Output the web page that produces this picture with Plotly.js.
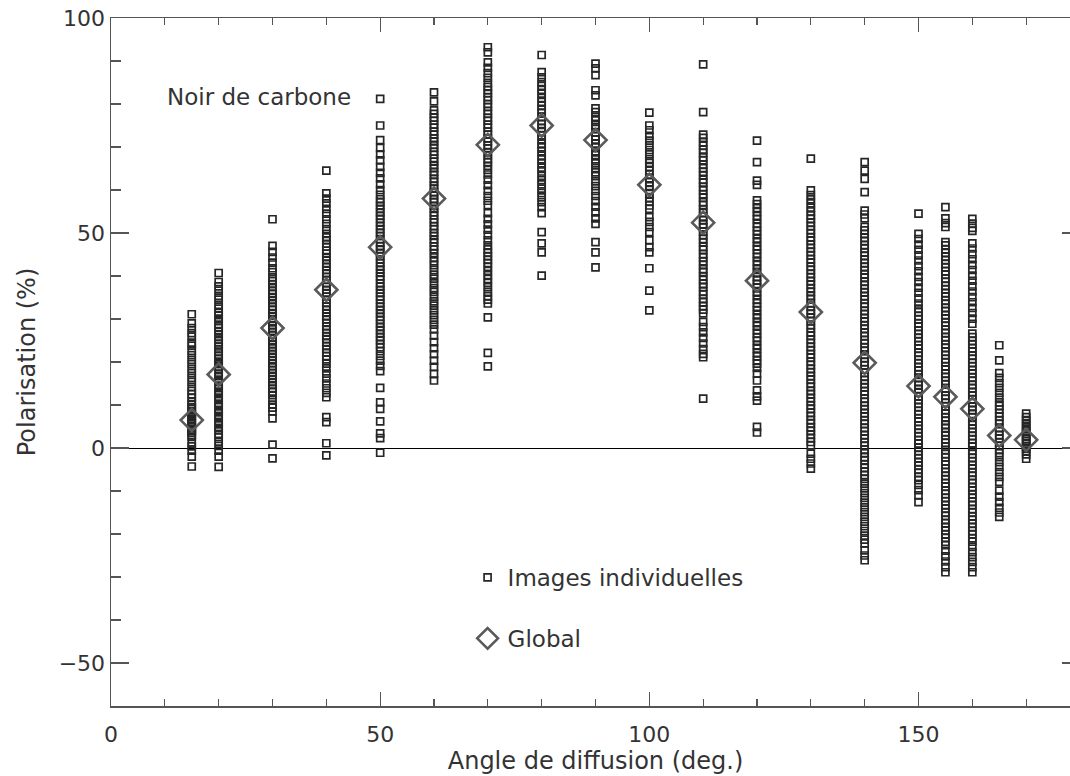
<!DOCTYPE html>
<html>
<head>
<meta charset="utf-8">
<script src="https://cdn.plot.ly/plotly-3.0.1.min.js"></script>
<style>
html, body { margin: 0; padding: 0; overflow: hidden; background: #fff; }
#chart { width: 1081px; height: 776px; }
</style>
</head>
<body>
<div id="chart"></div>
<script>
// Scattering angles (deg.)
const angles = [15, 20, 30, 40, 50, 60, 70, 80, 90, 100, 110, 120, 130, 140, 150, 155, 160, 165, 170];

// Global polarisation (%) per angle
const globalPol = [6.5, 17.1, 27.9, 36.8, 46.7, 58.0, 70.5, 75.0, 71.6, 61.2, 52.4, 38.9, 31.6, 19.8, 14.4, 11.9, 9.1, 2.9, 1.9];

// Individual images polarisation (%) per angle
const p15 = [31.1, 29.0, 27.9, 26.7, 25.9, 24.5, 23.8, 22.6, 21.6, 20.5, 19.5, 18.4, 17.4, 16.3, 15.4, 14.2, 13.3, 12.5, 11.7, 10.8, 10.2, 9.5, 9.1, 8.4, 8.0, 7.5, 7.1, 6.6, 6.0, 5.7, 5.1, 4.8, 4.2, 3.9, 3.5, 3.0, 2.6, 1.3, 0.4, -0.6, -2.0, -4.3];
const p20 = [40.7, 38.6, 37.6, 36.6, 35.4, 34.5, 33.3, 32.4, 31.5, 30.9, 30.1, 29.5, 28.7, 28.0, 27.2, 26.5, 25.8, 25.2, 24.3, 23.6, 23.0, 22.3, 21.5, 20.8, 20.1, 19.5, 18.8, 18.1, 17.3, 16.7, 15.9, 15.3, 14.5, 13.9, 13.1, 12.5, 11.7, 11.1, 10.3, 9.7, 8.9, 8.3, 7.5, 6.9, 6.1, 5.5, 4.7, 4.1, 3.3, 2.6, 1.5, 0.5, -0.6, -2.0, -4.4];
const p30 = [53.2, 47.0, 45.6, 44.3, 43.1, 41.8, 40.9, 39.7, 38.8, 38.1, 37.4, 36.6, 35.9, 35.1, 34.4, 33.7, 32.9, 32.2, 31.4, 30.7, 30.0, 29.2, 28.5, 27.8, 27.0, 26.3, 25.6, 24.8, 24.1, 23.4, 22.6, 21.9, 21.2, 20.4, 19.7, 19.0, 18.2, 17.5, 16.8, 16.0, 15.3, 14.6, 13.8, 13.1, 12.3, 11.2, 10.1, 9.4, 8.5, 6.9, 0.8, -2.4];
const p40 = [64.5, 59.2, 58.0, 56.9, 55.6, 54.5, 53.2, 52.1, 50.9, 49.8, 49.0, 48.3, 47.5, 46.8, 45.9, 45.2, 44.4, 43.7, 42.9, 42.1, 41.4, 40.6, 39.8, 39.1, 38.3, 37.5, 36.8, 36.0, 35.2, 34.5, 33.7, 32.9, 32.2, 31.4, 30.6, 29.9, 29.1, 28.3, 27.6, 26.8, 26.0, 25.3, 24.5, 23.7, 23.0, 22.2, 21.4, 20.6, 19.6, 18.5, 17.3, 16.2, 15.0, 13.9, 12.8, 11.8, 7.2, 6.0, 1.1, -1.7];
const p50 = [81.2, 75.0, 71.6, 69.8, 68.3, 66.9, 65.4, 64.0, 62.7, 61.3, 60.0, 58.9, 57.9, 57.1, 56.3, 55.6, 54.8, 54.0, 53.3, 52.4, 51.6, 50.9, 50.1, 49.3, 48.6, 47.7, 46.9, 46.2, 45.4, 44.6, 43.9, 43.0, 42.2, 41.5, 40.7, 39.9, 39.2, 38.3, 37.5, 36.8, 36.0, 35.2, 34.5, 33.6, 32.8, 32.1, 31.3, 30.5, 29.8, 28.9, 28.1, 27.4, 26.6, 25.8, 25.1, 24.2, 23.4, 22.5, 21.4, 20.3, 19.1, 17.9, 14.0, 10.6, 9.1, 6.2, 3.4, 2.3, -1.1];
const p60 = [82.7, 80.6, 78.5, 77.7, 76.8, 76.1, 75.2, 74.5, 73.6, 72.9, 72.0, 71.3, 70.5, 69.8, 68.9, 68.2, 67.3, 66.6, 65.8, 65.1, 64.2, 63.5, 62.6, 61.9, 61.0, 60.3, 59.5, 58.8, 57.9, 57.2, 56.3, 55.6, 54.8, 54.1, 53.2, 52.5, 51.6, 50.9, 50.0, 49.3, 48.5, 47.8, 46.9, 46.2, 45.3, 44.3, 43.4, 42.5, 41.4, 40.3, 39.4, 38.3, 37.2, 36.3, 35.2, 34.1, 33.1, 32.0, 30.9, 29.8, 28.7, 27.6, 26.1, 24.6, 23.2, 21.8, 20.3, 18.9, 17.2, 15.7];
const p70 = [93.2, 92.0, 89.7, 88.4, 87.2, 86.1, 84.9, 84.0, 83.2, 82.5, 81.6, 80.9, 80.0, 79.3, 78.4, 77.7, 76.8, 76.1, 75.2, 74.5, 73.6, 72.9, 72.0, 71.3, 70.4, 69.7, 68.8, 68.1, 67.2, 66.5, 65.6, 64.7, 63.6, 62.4, 61.1, 59.8, 58.6, 57.5, 56.5, 54.6, 53.3, 52.0, 50.8, 49.5, 48.3, 47.1, 46.2, 45.4, 44.6, 43.8, 43.0, 42.1, 41.2, 40.2, 39.3, 38.4, 37.4, 36.3, 35.3, 34.5, 33.6, 30.4, 22.1, 19.0];
const p80 = [91.4, 87.4, 86.2, 85.1, 84.2, 83.3, 82.4, 81.4, 80.5, 79.6, 78.7, 77.9, 77.0, 76.1, 75.3, 74.4, 73.5, 72.7, 71.8, 70.8, 69.9, 69.0, 68.0, 67.1, 66.2, 65.2, 64.3, 63.3, 62.3, 61.3, 60.3, 59.3, 58.3, 57.2, 56.0, 54.6, 50.2, 47.6, 45.5, 40.1];
const p90 = [89.4, 88.3, 86.7, 83.2, 82.0, 79.0, 78.1, 77.0, 76.2, 75.1, 74.2, 73.4, 72.5, 71.7, 70.8, 69.9, 69.0, 68.1, 67.1, 66.2, 65.1, 64.1, 63.2, 62.0, 60.9, 59.8, 58.6, 57.4, 56.1, 54.8, 53.4, 52.1, 47.9, 45.5, 42.0];
const p100 = [78.0, 75.0, 73.9, 72.6, 71.5, 70.4, 69.3, 68.3, 67.2, 66.3, 65.4, 64.5, 63.6, 62.7, 61.8, 60.9, 60.0, 59.1, 58.2, 57.3, 56.4, 55.6, 53.7, 52.6, 51.4, 50.2, 48.3, 46.7, 45.5, 41.8, 36.6, 32.0];
const p110 = [89.2, 78.1, 72.9, 72.1, 71.1, 70.3, 69.4, 68.6, 67.6, 66.9, 65.9, 65.1, 64.2, 63.4, 62.4, 61.7, 60.7, 59.9, 59.0, 58.2, 57.2, 56.5, 55.5, 54.7, 53.8, 53.0, 52.0, 51.3, 50.3, 49.5, 48.6, 47.8, 46.8, 46.1, 45.1, 44.3, 43.4, 42.6, 41.6, 40.9, 39.9, 39.1, 38.2, 37.4, 36.4, 35.7, 34.7, 33.9, 33.0, 32.2, 31.3, 29.3, 28.1, 26.9, 25.6, 24.3, 23.0, 21.9, 21.1, 11.5];
const p120 = [71.5, 66.5, 62.2, 61.2, 57.6, 56.7, 55.8, 54.9, 54.0, 53.2, 52.2, 51.4, 50.5, 49.7, 48.7, 47.9, 46.9, 46.1, 45.2, 44.4, 43.4, 42.6, 41.6, 40.8, 39.8, 39.0, 38.1, 37.3, 36.3, 35.5, 34.5, 33.7, 32.8, 32.0, 31.0, 30.2, 29.2, 28.4, 27.4, 26.6, 25.7, 24.9, 23.9, 23.1, 22.1, 21.3, 20.4, 19.6, 18.6, 17.3, 15.7, 13.4, 12.0, 11.0, 4.9, 3.6];
const p130 = [67.3, 59.9, 58.8, 57.8, 56.9, 55.9, 55.0, 54.1, 53.3, 52.4, 51.6, 50.7, 49.9, 49.0, 48.2, 47.3, 46.5, 45.6, 44.8, 43.9, 43.1, 42.2, 41.4, 40.5, 39.7, 38.8, 38.0, 37.1, 36.3, 35.4, 34.6, 33.7, 32.9, 32.0, 31.2, 30.3, 29.5, 28.6, 27.8, 26.9, 26.1, 25.2, 24.4, 23.5, 22.7, 21.8, 21.0, 20.1, 19.3, 18.4, 17.6, 16.7, 15.9, 15.0, 14.2, 13.3, 12.5, 11.6, 10.8, 9.9, 9.1, 8.2, 7.4, 6.5, 5.7, 4.8, 4.0, 3.1, 2.3, 1.4, 0.6, -1.3, -2.5, -3.6, -4.8];
const p140 = [66.5, 64.5, 62.6, 59.5, 55.2, 54.3, 53.4, 51.4, 50.6, 49.8, 48.9, 48.1, 47.2, 46.4, 45.5, 44.7, 43.8, 43.0, 42.1, 41.3, 40.4, 39.6, 38.7, 37.9, 37.0, 36.2, 35.3, 34.5, 33.6, 32.8, 31.9, 31.1, 30.2, 29.4, 28.5, 27.7, 26.8, 26.0, 25.1, 24.3, 23.4, 22.6, 21.7, 20.9, 20.0, 19.2, 18.3, 17.5, 16.6, 15.8, 14.9, 14.1, 13.2, 12.4, 11.5, 10.7, 9.8, 9.0, 8.1, 7.3, 6.4, 5.6, 4.7, 3.9, 3.0, 2.2, 1.3, 0.5, -0.4, -1.2, -2.1, -2.9, -3.8, -4.6, -5.5, -6.3, -7.2, -8.3, -9.4, -10.5, -11.6, -12.7, -13.8, -14.9, -16.0, -17.1, -18.2, -19.3, -20.4, -21.3, -22.2, -23.8, -25.0, -26.1];
const p150 = [54.5, 49.8, 48.6, 47.3, 46.1, 44.8, 43.6, 42.3, 41.1, 39.8, 38.6, 37.3, 36.1, 34.8, 33.6, 32.4, 31.6, 30.7, 29.9, 29.0, 28.2, 27.3, 26.5, 25.6, 24.8, 23.9, 23.1, 22.2, 21.4, 20.5, 19.7, 18.8, 18.0, 17.1, 16.3, 15.4, 14.6, 13.7, 12.9, 12.0, 11.2, 10.3, 9.5, 8.6, 7.8, 6.9, 6.1, 5.2, 4.4, 3.5, 2.7, 1.8, 1.0, 0.1, -0.7, -1.6, -2.4, -3.3, -4.1, -5.0, -5.8, -6.7, -7.5, -8.6, -9.8, -11.0, -12.6];
const p155 = [56.0, 53.4, 52.3, 51.4, 47.9, 47.1, 46.2, 45.4, 44.5, 43.7, 42.8, 42.0, 41.1, 40.3, 39.4, 38.6, 37.7, 36.9, 36.0, 35.2, 34.3, 33.5, 32.6, 31.8, 30.9, 30.1, 29.2, 28.4, 27.5, 26.7, 25.8, 25.0, 24.1, 23.3, 22.4, 21.6, 20.7, 19.9, 19.0, 18.2, 17.3, 16.5, 15.6, 14.8, 13.9, 13.1, 12.2, 11.4, 10.5, 9.7, 8.8, 8.0, 7.1, 6.3, 5.4, 4.6, 3.7, 2.9, 2.0, 1.2, 0.3, -0.5, -1.4, -2.2, -3.1, -3.9, -4.8, -5.6, -6.5, -7.3, -8.2, -9.0, -9.9, -10.7, -11.6, -12.4, -13.3, -14.1, -15.0, -15.8, -16.7, -17.5, -18.4, -19.2, -20.1, -20.9, -21.8, -22.6, -23.9, -25.2, -26.4, -27.7, -28.9];
const p160 = [53.3, 52.2, 51.2, 50.5, 47.6, 46.4, 45.1, 43.9, 42.6, 41.4, 40.1, 38.9, 37.6, 36.4, 35.1, 33.9, 32.6, 31.4, 30.1, 28.9, 26.6, 25.8, 24.9, 24.1, 23.2, 22.4, 21.5, 20.7, 19.8, 19.0, 18.1, 17.3, 16.4, 15.6, 14.7, 13.9, 13.0, 12.2, 11.3, 10.5, 9.6, 8.8, 7.9, 7.1, 6.2, 5.4, 4.5, 3.7, 2.8, 2.0, 1.1, 0.3, -0.6, -1.4, -2.3, -3.1, -4.0, -4.8, -5.7, -6.5, -7.4, -8.2, -9.1, -9.9, -10.8, -11.6, -12.5, -13.3, -14.2, -15.0, -15.9, -16.7, -17.6, -18.4, -19.3, -20.1, -21.0, -21.8, -23.0, -24.2, -25.4, -26.5, -27.7, -28.9];
const p165 = [23.9, 20.4, 17.4, 16.3, 15.1, 14.0, 12.8, 11.7, 10.6, 9.8, 9.0, 8.1, 7.3, 6.4, 5.6, 4.7, 3.9, 3.0, 2.2, 1.3, 0.5, -0.4, -1.2, -2.1, -3.3, -4.4, -5.6, -6.7, -7.9, -9.9, -11.3, -12.6, -13.9, -15.0, -16.0];
const p170 = [8.0, 7.2, 6.5, 5.8, 5.1, 4.5, 3.9, 3.3, 2.7, 2.1, 1.6, 1.0, 0.4, -0.2, -0.8, -1.5, -2.5];

const individual = [p15, p20, p30, p40, p50, p60, p70, p80, p90, p100, p110, p120, p130, p140, p150, p155, p160, p165, p170];

// Tick values
const xTicks = [0, 50, 100, 150];
const yTicks = [-50, 0, 50, 100];

// Labels
const legendIndividual = 'Images individuelles';
const legendGlobal = 'Global';
const sampleLabel = 'Noir de carbone';
const xTitle = 'Angle de diffusion (deg.)';
const yTitle = 'Polarisation (%)';

// Flatten individual measurements
const indX = [];
const indY = [];
individual.forEach(function (vals, i) {
  vals.forEach(function (v) { indX.push(angles[i]); indY.push(v); });
});

const axisColor = '#555';
const font = 'DejaVu Sans, Verdana, sans-serif';

const traces = [
  {
    type: 'scatter', mode: 'markers', x: indX, y: indY,
    name: legendIndividual, legendgroup: 'a',
    marker: { symbol: 'square-open', size: 7, color: '#262626', line: { width: 1.7, color: '#262626' } },
    hoverinfo: 'skip'
  },
  {
    type: 'scatter', mode: 'markers', x: angles, y: globalPol,
    name: legendGlobal, legendgroup: 'b',
    marker: { symbol: 'diamond-open', size: 17, color: '#5a5a5a', line: { width: 2.6, color: '#5a5a5a' } },
    hoverinfo: 'skip'
  }
];

const layout = {
  width: 1081, height: 776,
  margin: { l: 111, r: 1, t: 18, b: 70 },
  paper_bgcolor: '#fff', plot_bgcolor: '#fff',
  font: { family: font, color: '#333', size: 22 },
  showlegend: true,
  legend: {
    x: 0.368, xanchor: 'left', y: 0.218, yanchor: 'top',
    bgcolor: 'rgba(0,0,0,0)', font: { size: 23, color: '#333' },
    tracegroupgap: 28, itemsizing: 'trace'
  },
  xaxis: {
    range: [0, 180], tickmode: 'array', tickvals: xTicks,
    ticks: 'inside', ticklen: 14, tickwidth: 1.3, tickcolor: axisColor,
    showline: true, linecolor: axisColor, linewidth: 1.5, mirror: 'ticks',
    showgrid: false, zeroline: false, ticklabelstandoff: 8,
    tickfont: { size: 22, color: '#333' },
    minor: { tick0: 0, dtick: 10, ticks: 'inside', ticklen: 7, tickwidth: 1.2, tickcolor: axisColor, showgrid: false },
    title: { text: xTitle, font: { size: 24, color: '#333' }, standoff: 0 }
  },
  yaxis: {
    range: [-60, 100], tickmode: 'array', tickvals: yTicks,
    ticks: 'inside', ticklen: 18, tickwidth: 1.3, tickcolor: axisColor,
    showline: true, linecolor: axisColor, linewidth: 1.5, mirror: 'ticks',
    showgrid: false, zeroline: true, zerolinecolor: '#000', zerolinewidth: 1,
    tickfont: { size: 22, color: '#333' },
    minor: { tick0: 0, dtick: 10, ticks: 'inside', ticklen: 10, tickwidth: 1.2, tickcolor: axisColor, showgrid: false },
    title: { text: yTitle, font: { size: 24, color: '#333' }, standoff: 16 }
  },
  annotations: [
    { xref: 'x', yref: 'y', x: 10, y: 81.6, xanchor: 'left', yanchor: 'middle',
      text: sampleLabel, showarrow: false, font: { size: 23, color: '#333' } }
  ]
};

Plotly.newPlot('chart', traces, layout, { staticPlot: true, displayModeBar: false });
</script>
</body>
</html>
